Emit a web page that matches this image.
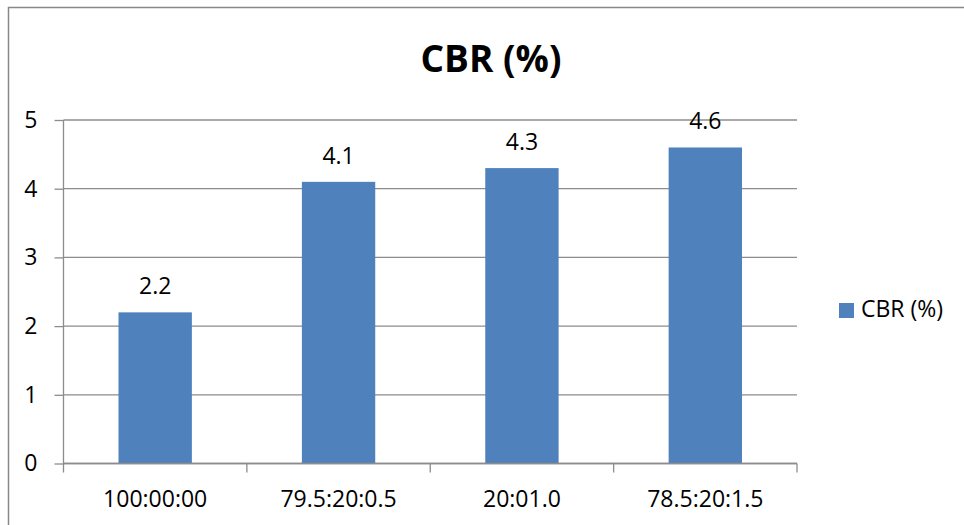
<!DOCTYPE html>
<html>
<head>
<meta charset="utf-8">
<script src="https://cdn.jsdelivr.net/npm/d3@7"></script>
<style>
  body { margin: 0; background: #fff; }
  text { font-family: "Open Sans", sans-serif; fill: #000; }
</style>
</head>
<body>
<script>
const width = 964,
  height = 525;

// data
const categories = ["100:00:00", "79.5:20:0.5", "20:01.0", "78.5:20:1.5"];
const cbrValues = [2.2, 4.1, 4.3, 4.6];
const yTicks = [0, 1, 2, 3, 4, 5];
const seriesName = "CBR (%)";
const chartTitle = "CBR (%)";

const data = categories.map((c, i) => ({ cat: c, value: cbrValues[i] }));

const plot = { left: 63.5, right: 797, top: 120, bottom: 463.5 };
const barColor = "#4F81BD";
const gridColor = "#8c8c8c";

const svg = d3
  .select("body")
  .append("svg")
  .attr("width", width)
  .attr("height", height);

// outer frame
svg
  .append("rect")
  .attr("x", 8.5)
  .attr("y", 7.5)
  .attr("width", 1000)
  .attr("height", 600)
  .attr("fill", "none")
  .attr("stroke", "#888")
  .attr("stroke-width", 1.5);

const xScale = d3
  .scaleBand()
  .domain(categories)
  .range([plot.left, plot.right])
  .paddingInner(0.6)
  .paddingOuter(0.3);

const yScale = d3
  .scaleLinear()
  .domain([0, 5])
  .range([plot.bottom, plot.top]);

// gridlines
svg
  .append("g")
  .selectAll("line")
  .data(yTicks)
  .enter()
  .append("line")
  .attr("x1", plot.left)
  .attr("x2", plot.right)
  .attr("y1", d => yScale(d))
  .attr("y2", d => yScale(d))
  .attr("stroke", gridColor)
  .attr("stroke-width", 1.3);

// y axis
const yAxis = d3
  .axisLeft(yScale)
  .tickValues(yTicks)
  .tickFormat(d3.format("d"))
  .tickSize(9)
  .tickPadding(17);

const yG = svg
  .append("g")
  .attr("transform", `translate(${plot.left},0)`)
  .call(yAxis);
yG.select(".domain").remove();
yG.selectAll("line").attr("stroke", gridColor).attr("stroke-width", 1.3);
yG.selectAll("text").attr("font-size", 23);

// bars
svg
  .append("g")
  .selectAll("rect")
  .data(data)
  .enter()
  .append("rect")
  .attr("x", d => xScale(d.cat))
  .attr("y", d => yScale(d.value))
  .attr("width", xScale.bandwidth())
  .attr("height", d => yScale(0) - yScale(d.value))
  .attr("fill", barColor);

// value labels
svg
  .append("g")
  .selectAll("text")
  .data(data)
  .enter()
  .append("text")
  .attr("x", d => xScale(d.cat) + xScale.bandwidth() / 2)
  .attr("y", d => yScale(d.value) - 18)
  .attr("text-anchor", "middle")
  .attr("font-size", 23)
  .text(d => d.value);

// x axis line + boundary ticks
const step = xScale.step();
const boundaries = d3.range(categories.length + 1).map(i => plot.left + i * step);

const xG = svg.append("g");
xG.append("line")
  .attr("x1", plot.left)
  .attr("x2", plot.right)
  .attr("y1", yScale(0))
  .attr("y2", yScale(0))
  .attr("stroke", gridColor)
  .attr("stroke-width", 1.3);
xG.selectAll(".bt")
  .data(boundaries)
  .enter()
  .append("line")
  .attr("class", "bt")
  .attr("x1", d => d)
  .attr("x2", d => d)
  .attr("y1", (d, i) => (i === 0 ? plot.top : yScale(0)))
  .attr("y2", yScale(0) + 9)
  .attr("stroke", gridColor)
  .attr("stroke-width", 1.3);

xG.selectAll(".xl")
  .data(categories)
  .enter()
  .append("text")
  .attr("class", "xl")
  .attr("x", d => xScale(d) + xScale.bandwidth() / 2)
  .attr("y", 507)
  .attr("text-anchor", "middle")
  .attr("font-size", 23)
  .text(d => d);

// title
svg
  .append("text")
  .attr("x", 491)
  .attr("y", 72)
  .attr("text-anchor", "middle")
  .attr("font-size", 37)
  .attr("font-weight", "bold")
  .text(chartTitle);

// legend
const legend = svg.append("g").attr("transform", "translate(839,303)");
legend
  .append("rect")
  .attr("width", 15)
  .attr("height", 15)
  .attr("fill", barColor);
legend
  .append("text")
  .attr("x", 22)
  .attr("y", 14)
  .attr("font-size", 23)
  .text(seriesName);
</script>
</body>
</html>
